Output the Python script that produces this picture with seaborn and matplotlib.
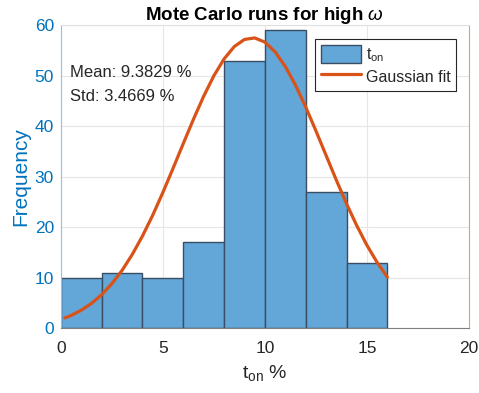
import numpy as np
import pandas as pd
import matplotlib
matplotlib.use("Agg")
import matplotlib.pyplot as plt
import seaborn as sns

# ---- data ----
bin_edges = [0, 2, 4, 6, 8, 10, 12, 14, 16]
bin_counts = [10, 11, 10, 17, 53, 59, 27, 13]
fit_x = [0.2, 0.5, 1.0, 1.5, 2.0, 2.5, 3.0, 3.5, 4.0, 4.5, 5.0, 5.5, 6.0, 6.5,
         7.0, 7.5, 8.0, 8.5, 9.0, 9.5, 10.0, 10.5, 11.0, 11.5, 12.0, 12.5,
         13.0, 13.5, 14.0, 14.5, 15.0, 15.5, 16.0]
fit_y = [2.03, 2.51, 3.55, 4.89, 6.62, 8.80, 11.43, 14.59, 18.24, 22.34, 26.86,
         31.65, 36.55, 41.37, 45.92, 49.98, 53.31, 55.76, 57.17, 57.47, 56.64,
         54.71, 51.81, 48.11, 43.80, 39.08, 34.20, 29.32, 24.66, 20.32, 16.42,
         13.02, 10.10]
x_ticks = [0, 5, 10, 15, 20]
y_ticks = [0, 10, 20, 30, 40, 50, 60]
mean_text = "Mean: 9.3829 %"
std_text = "Std: 3.4669 %"

sns.set_theme(style="white")
plt.rcParams['font.family'] = ['Liberation Sans', 'DejaVu Sans']
plt.rcParams['mathtext.fontset'] = 'custom'
plt.rcParams['mathtext.rm'] = 'Liberation Sans'
plt.rcParams['mathtext.it'] = 'Liberation Sans:italic'
plt.rcParams['mathtext.bf'] = 'Liberation Sans:bold'

fig = plt.figure(figsize=(4.79, 3.93), dpi=100)
ax = fig.add_axes([0.127, 0.165, 0.852, 0.771])

centers = [(bin_edges[i] + bin_edges[i + 1]) / 2 for i in range(len(bin_counts))]
df = pd.DataFrame({"x": centers, "w": bin_counts})
sns.histplot(data=df, x="x", weights="w", bins=bin_edges, ax=ax,
             color="#62A7D8", alpha=1.0, edgecolor="#3A4E63", linewidth=1.0,
             label="t$_{\\mathrm{on}}$")
fit_df = pd.DataFrame({"x": fit_x, "y": fit_y})
sns.lineplot(data=fit_df, x="x", y="y", ax=ax, color="#D95319", linewidth=2.3,
             label="Gaussian fit")

ax.set_xlim(0, 20)
ax.set_ylim(0, 60)
ax.set_xticks(x_ticks)
ax.set_yticks(y_ticks)
ax.grid(True, color="#E6E6E6", linewidth=0.8)
ax.set_axisbelow(True)

blue = "#0072BD"
ax.tick_params(axis='x', direction='in', length=3, labelsize=12.5, colors="#262626",
               pad=9)
ax.tick_params(axis='y', direction='in', length=3, labelsize=12.5, colors=blue,
               labelcolor=blue, pad=5)
ax.spines['top'].set_color("#E0E0E0")
ax.spines['bottom'].set_color("#808080")
ax.spines['left'].set_color("#8FC3E6")
ax.spines['right'].set_color("#E0A070")
for s in ax.spines.values():
    s.set_linewidth(0.8)

ax.set_xlabel("t$_{\\mathrm{on}}$ %", fontsize=14, color="#262626", labelpad=5)
ax.set_ylabel("Frequency", fontsize=15, color=blue, labelpad=3)
ax.set_title("Mote Carlo runs for high $\\omega$", fontsize=13.5, fontweight='bold',
             color="black", pad=4)

ax.text(0.44, 50.7, mean_text, fontsize=12, va='center', ha='left', color="#262626")
ax.text(0.44, 45.9, std_text, fontsize=12, va='center', ha='left', color="#262626")

handles, labels = ax.get_legend_handles_labels()
order = [labels.index("t$_{\\mathrm{on}}$"), labels.index("Gaussian fit")]
leg = ax.legend([handles[i] for i in order], [labels[i] for i in order],
                loc='upper right', bbox_to_anchor=(0.968, 0.954), fontsize=11.5,
                frameon=True, fancybox=False, edgecolor="#262626", framealpha=1,
                handlelength=2.5, handleheight=1.4, borderpad=0.35,
                labelspacing=0.2, handletextpad=0.3, borderaxespad=0.0)
leg.get_frame().set_linewidth(0.8)

fig.savefig("out.png", dpi=100)
